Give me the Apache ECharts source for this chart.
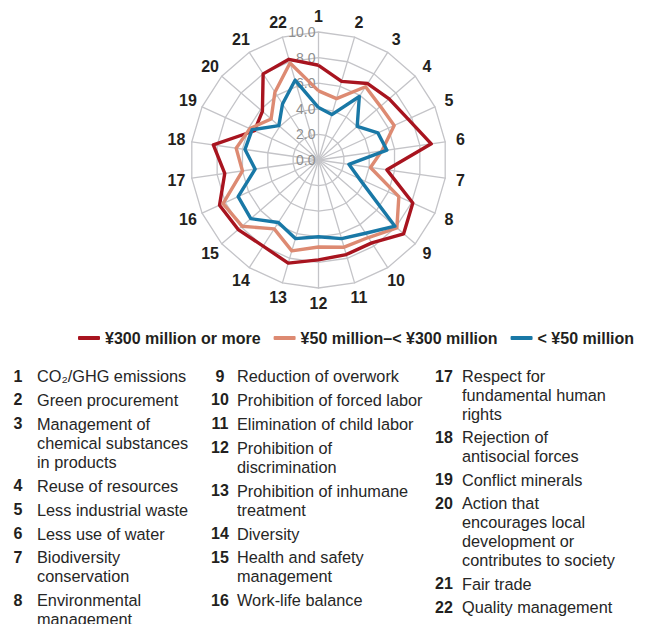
<!DOCTYPE html>
<html><head><meta charset="utf-8">
<script src="https://cdn.jsdelivr.net/npm/echarts@6/dist/echarts.min.js"></script>
<style>html,body{margin:0;padding:0;background:#fff}#c{width:645px;height:624px}</style>
</head><body><div id="c"></div>
<script>
// ---- data ----
const categories = ['1','2','3','4','5','6','7','8','9','10','11','12','13','14','15','16','17','18','19','20','21','22'];
const seriesNames = ['¥300 million or more', '¥50 million–< ¥300 million', '< ¥50 million'];
const large  = [7.4, 6.4, 7.1, 7.3, 7.7, 8.9, 5.4, 8.1, 8.8, 7.7, 7.7, 7.8, 8.4, 8.0, 8.3, 8.5, 7.4, 8.3, 5.5, 5.8, 8.0, 8.2];
const medium = [5.4, 5.0, 6.8, 6.4, 6.5, 5.0, 4.1, 6.9, 8.1, 7.2, 7.1, 6.8, 7.4, 6.4, 7.9, 8.2, 6.0, 6.5, 5.9, 4.9, 6.3, 7.9];
const small  = [4.1, 3.7, 5.9, 4.0, 5.1, 5.4, 2.4, 3.5, 7.9, 6.8, 6.4, 6.0, 6.4, 5.8, 7.0, 6.9, 5.0, 5.8, 5.7, 4.1, 5.2, 6.5];
const axisMin = 0, axisMax = 10, axisSplits = 5;
const itemTexts = [
  'CO₂/GHG emissions',
  'Green procurement',
  'Management of\nchemical substances\nin products',
  'Reuse of resources',
  'Less industrial waste',
  'Less use of water',
  'Biodiversity\nconservation',
  'Environmental\nmanagement',
  'Reduction of overwork',
  'Prohibition of forced labor',
  'Elimination of child labor',
  'Prohibition of\ndiscrimination',
  'Prohibition of inhumane\ntreatment',
  'Diversity',
  'Health and safety\nmanagement',
  'Work-life balance',
  'Respect for\nfundamental human\nrights',
  'Rejection of\nantisocial forces',
  'Conflict minerals',
  'Action that\nencourages local\ndevelopment or\ncontributes to society',
  'Fair trade',
  'Quality management'
];
const columnRanges = [[0, 8], [8, 16], [16, 22]];

// ---- styling ----
const colors = ['#a8141f', '#dd8a72', '#1978a6'];
const FONT = "'Liberation Sans', Arial, Helvetica, sans-serif";

// clockwise order starting from top (ECharts radar goes counter-clockwise)
const order = [0];
for (let i = categories.length - 1; i >= 1; i--) order.push(i);

const indicator = order.map((idx, k) => {
  const o = { name: categories[idx], min: axisMin, max: axisMax };
  if (k === 0) {
    o.axisLabel = { show: true, color: '#8e8e8e', fontSize: 14, fontFamily: FONT, margin: 3,
      formatter: v => Number(v).toFixed(1) };
  }
  return o;
});
const reorder = arr => order.map(i => arr[i]);

// list graphics
const colX = [{num: 18, txt: 37, gap: 4.9}, {num: 220, txt: 237, gap: 4.9}, {num: 444, txt: 462, gap: 4.4}];
const LH = 19, TOP = 366.5;
const graphics = [];
columnRanges.forEach((r, c) => {
  let y = TOP;
  for (let i = r[0]; i < r[1]; i++) {
    const lines = itemTexts[i].split('\n').length;
    graphics.push({ type: 'text', x: colX[c].num, y: y, style: {
      text: categories[i], fontFamily: FONT, fontSize: 16, fontWeight: 'bold', fill: '#231f20',
      align: 'center', verticalAlign: 'top', lineHeight: LH } });
    graphics.push({ type: 'text', x: colX[c].txt, y: y, style: {
      text: itemTexts[i], fontFamily: FONT, fontSize: 16.3, fill: '#262626',
      align: 'left', verticalAlign: 'top', lineHeight: LH } });
    y += lines * LH + colX[c].gap;
  }
});

const chart = echarts.init(document.getElementById('c'), null, { renderer: 'svg' });
chart.setOption({
  animation: false,
  color: colors,
  textStyle: { fontFamily: FONT },
  legend: {
    data: seriesNames, left: 73, top: 325, itemWidth: 22, itemHeight: 4, itemGap: 13,
    icon: 'roundRect',
    textStyle: { fontFamily: FONT, fontSize: 16, fontWeight: 'bold', color: '#231f20' }
  },
  radar: {
    center: [318.5, 160], radius: 128, startAngle: 90, splitNumber: axisSplits,
    shape: 'polygon', nameGap: 15.5,
    axisName: { color: '#231f20', fontSize: 16, fontWeight: 'bold', fontFamily: FONT,
      align: 'center', verticalAlign: 'middle' },
    splitArea: { show: false },
    splitLine: { lineStyle: { color: '#c4c4c8', width: 1.3 } },
    axisLine: { lineStyle: { color: '#c4c4c8', width: 1.3 } },
    axisLabel: { show: false },
    axisTick: { show: false },
    indicator: indicator
  },
  series: [{
    type: 'radar', symbol: 'none',
    data: [large, medium, small].map((arr, i) => ({
      name: seriesNames[i], value: reorder(arr),
      lineStyle: { color: colors[i], width: 3.4 }, itemStyle: { color: colors[i] }
    }))
  }],
  graphic: graphics
});
</script></body></html>
